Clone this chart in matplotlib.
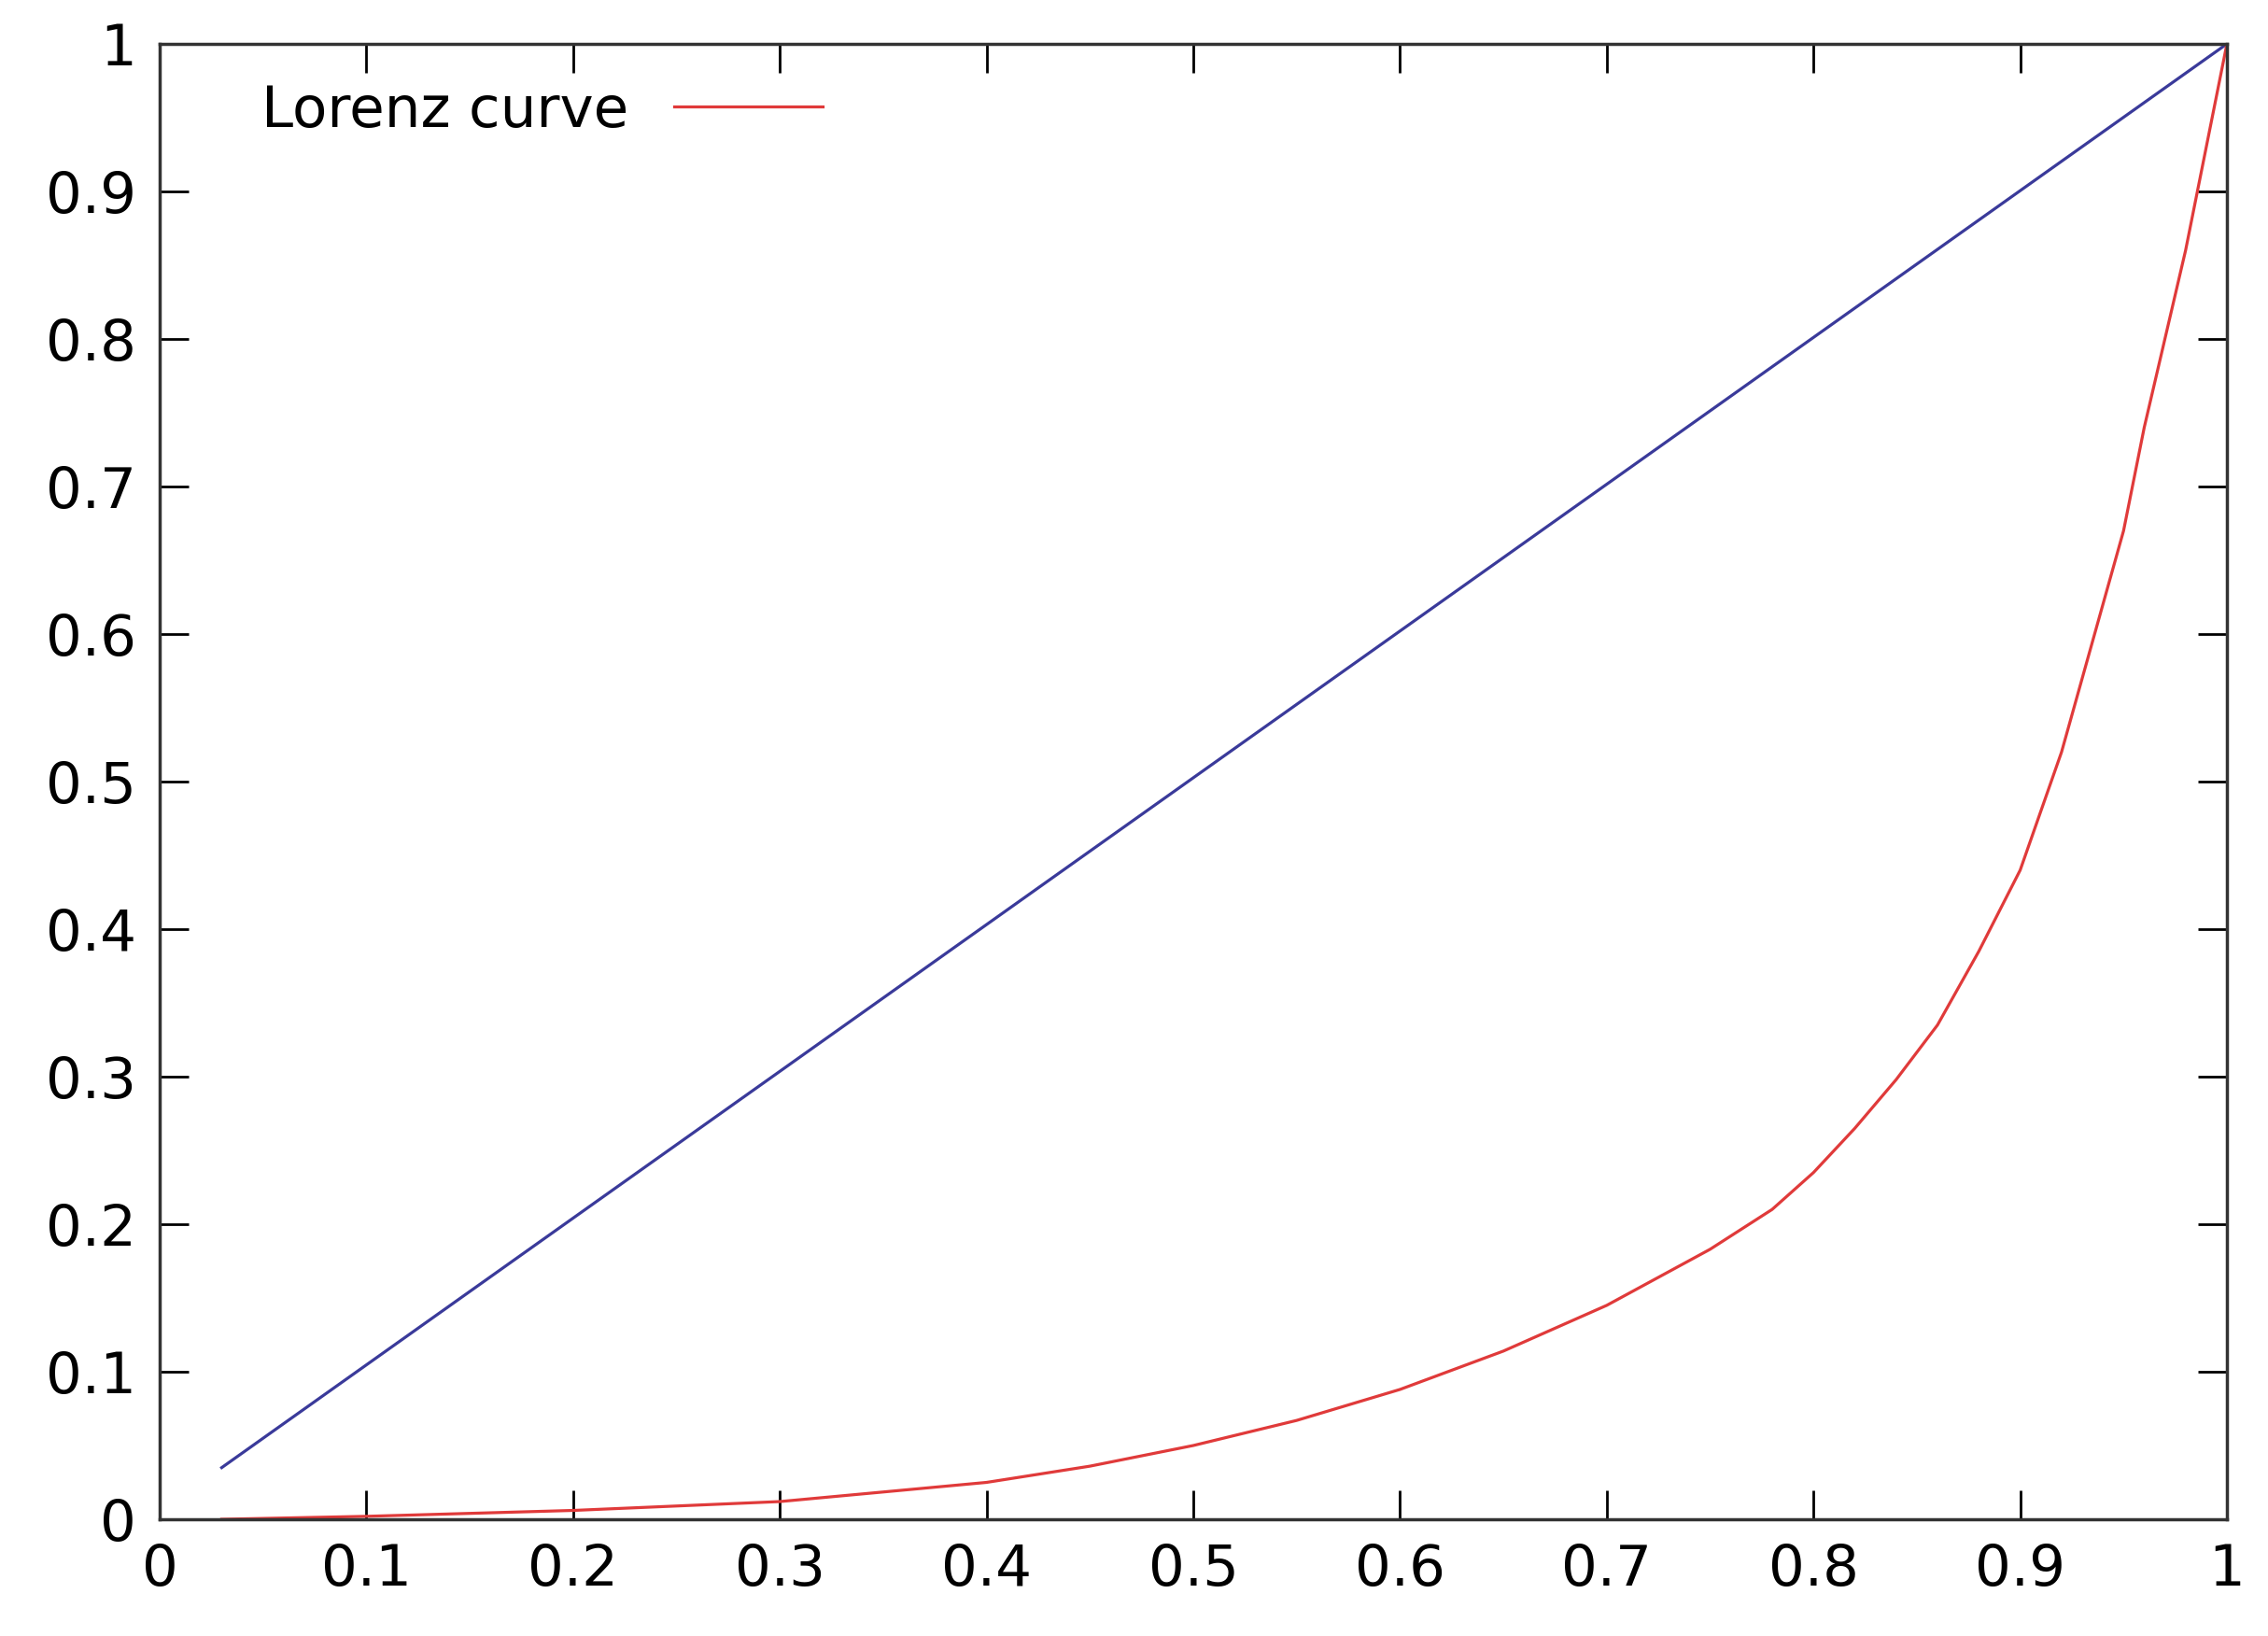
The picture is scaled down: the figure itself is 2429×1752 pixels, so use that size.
import matplotlib
matplotlib.use('Agg')
import matplotlib.pyplot as plt

# Lorenz curve
lorenz_x = [0.03, 0.1, 0.2, 0.3, 0.4, 0.45, 0.5, 0.55, 0.6, 0.65, 0.7, 0.75, 0.78, 0.8, 0.82, 0.84,
            0.86, 0.88, 0.9, 0.92, 0.93, 0.95, 0.96, 0.97, 0.98, 0.99, 1.0]
lorenz_y = [0.0, 0.002, 0.006, 0.012, 0.025, 0.036, 0.05, 0.067, 0.088, 0.114, 0.145, 0.183, 0.21, 0.235,
            0.265, 0.298, 0.335, 0.385, 0.44, 0.52, 0.57, 0.67, 0.74, 0.8, 0.86, 0.93, 1.0]
# line of equality
equal_x = [0.03, 1.0]
equal_y = [0.035, 1.0]

ticks = [0, 0.1, 0.2, 0.3, 0.4, 0.5, 0.6, 0.7, 0.8, 0.9, 1]
tick_labels = ["0", "0.1", "0.2", "0.3", "0.4", "0.5", "0.6", "0.7", "0.8", "0.9", "1"]

fig = plt.figure(figsize=(24.29, 17.52), dpi=100)
ax = fig.add_axes([171 / 2429, 1 - 1627 / 1752, (2385 - 171) / 2429, (1627 - 47) / 1752])

ax.plot(equal_x, equal_y, color='#3a3a9a', lw=2.3)
ax.plot(lorenz_x, lorenz_y, color='#e03a3a', lw=2.3, label='Lorenz curve')

ax.set_xlim(0, 1)
ax.set_ylim(0, 1)
ax.set_xticks(ticks)
ax.set_xticklabels(tick_labels)
ax.set_yticks(ticks)
ax.set_yticklabels(tick_labels)
ax.tick_params(direction='in', length=22, width=2, labelsize=44, top=True, right=True, pad=18)
for s in ax.spines.values():
    s.set_linewidth(2.5)
    s.set_color('#333333')

ax.legend(loc='upper left', frameon=False, fontsize=44, markerfirst=False,
          handlelength=2.6, borderaxespad=0.3, bbox_to_anchor=(0.03, 1.0))

fig.savefig('out.png', dpi=100)
